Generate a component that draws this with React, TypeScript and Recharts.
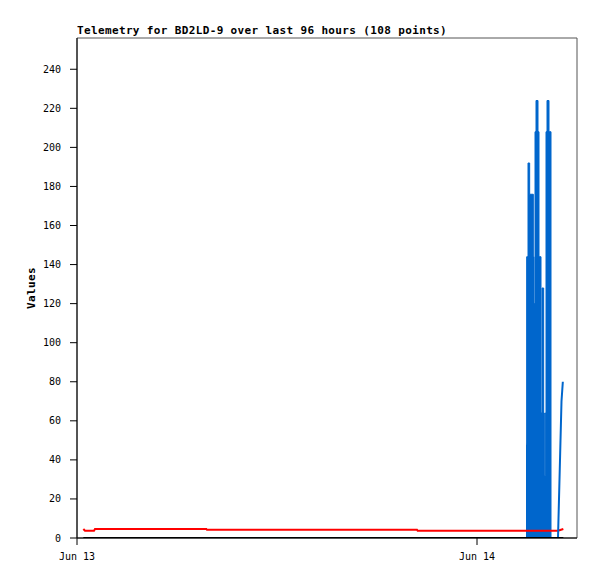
import {
  Area,
  ComposedChart,
  Label,
  Line,
  ReferenceArea,
  XAxis,
  YAxis,
} from 'recharts'

// hours since Jun 13 00:00
const dayTicks = [0, 24]
const dayLabels = ['Jun 13', 'Jun 14']
const valueTicks = [0, 20, 40, 60, 80, 100, 120, 140, 160, 180, 200, 220, 240]

const redHours = [0.38, 0.48, 1.02, 1.08, 7.76, 7.8, 20.4, 20.44, 28.86, 29.18]
const redValues = [4.6, 3.7, 3.7, 4.6, 4.6, 4.2, 4.2, 3.7, 3.7, 4.6]

const zeroHours = [0.38, 29.18]
const zeroValues = [0, 0]

const burstHours = [
  26.94, 26.98, 27.06, 27.16, 27.38, 27.42, 27.48, 27.54, 27.66, 27.72,
  27.84, 27.9, 28.0, 28.04, 28.1, 28.14, 28.2, 28.32, 28.44,
]
const burstValues = [
  48, 144, 192, 176, 144, 120, 208, 224, 208, 144, 64, 128, 64, 32, 64, 208,
  224, 208, 0,
]

const rampHours = [28.86, 28.89, 28.95, 29.01, 29.07, 29.15]
const rampValues = [0, 10, 30, 50, 70, 80]

const toRows = (hours: number[], values: number[]) =>
  hours.map((h, i) => ({ h, v: values[i] }))

const redData = toRows(redHours, redValues)
const zeroData = toRows(zeroHours, zeroValues)
const burstData = toRows(burstHours, burstValues)
const rampData = toRows(rampHours, rampValues)

const mono = '"DejaVu Sans Mono", monospace'
const tickStyle = { fill: '#000', fontSize: 10, fontFamily: mono }

export default function App() {
  return (
    <div
      style={{
        position: 'absolute',
        left: 0,
        top: 0,
        width: 597,
        height: 579,
        background: '#fff',
      }}
    >
      <div
        style={{
          position: 'absolute',
          left: 77,
          top: 25,
          fontFamily: mono,
          fontWeight: 'bold',
          fontSize: 11,
          letterSpacing: 0.36,
          lineHeight: '12px',
          whiteSpace: 'nowrap',
          color: '#000',
        }}
      >
        Telemetry for BD2LD-9 over last 96 hours (108 points)
      </div>
      <ComposedChart
        width={597}
        height={579}
        margin={{ top: 38, right: 20, bottom: 0, left: 0 }}
      >
        <XAxis
          type="number"
          dataKey="h"
          domain={[0, 30]}
          allowDataOverflow
          ticks={dayTicks}
          tickFormatter={(t: number) => dayLabels[dayTicks.indexOf(t)] ?? ''}
          height={41}
          tickSize={7}
          tickMargin={8}
          tick={tickStyle}
          stroke="#000"
        />
        <YAxis
          type="number"
          dataKey="v"
          domain={[0, 256]}
          allowDataOverflow
          ticks={valueTicks}
          width={77}
          tickSize={7}
          tickMargin={9}
          tick={tickStyle}
          stroke="#000"
        >
          <Label
            value="Values"
            angle={-90}
            position="insideLeft"
            offset={31}
            style={{
              textAnchor: 'middle',
              fontFamily: mono,
              fontWeight: 'bold',
              fontSize: 11,
              letterSpacing: 0.36,
              fill: '#000',
            }}
          />
        </YAxis>
        <ReferenceArea
          x1={0}
          x2={30}
          y1={0}
          y2={256}
          fill="none"
          stroke="#555"
          strokeWidth={1}
        />
        <Line
          data={redData}
          dataKey="v"
          type="linear"
          stroke="#ff0000"
          strokeWidth={2}
          dot={false}
          activeDot={false}
          isAnimationActive={false}
        />
        <Area
          data={burstData}
          dataKey="v"
          type="stepAfter"
          stroke="#0066cc"
          strokeWidth={1}
          fill="#0066cc"
          fillOpacity={1}
          dot={false}
          activeDot={false}
          isAnimationActive={false}
        />
        <Line
          data={rampData}
          dataKey="v"
          type="linear"
          stroke="#0066cc"
          strokeWidth={2}
          dot={false}
          activeDot={false}
          isAnimationActive={false}
        />
        <Line
          data={zeroData}
          dataKey="v"
          type="linear"
          stroke="#000"
          strokeWidth={2}
          dot={false}
          activeDot={false}
          isAnimationActive={false}
        />
      </ComposedChart>
    </div>
  )
}
